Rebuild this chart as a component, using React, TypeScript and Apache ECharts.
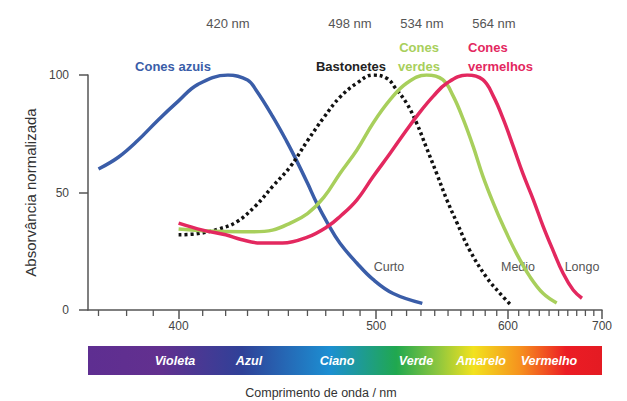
import React, { useEffect, useRef } from "react";
import * as echarts from "echarts";

// Wavelengths (nm) and normalised absorbance for each curve
const blueNm = [370, 377, 384, 392, 400, 408, 421, 430, 434, 442, 449, 454, 460, 465, 471, 478, 488, 498, 511, 531];
const blueVal = [60, 65, 72, 81, 89, 96, 100, 97.9, 93.6, 82.5, 72, 64, 54, 45.5, 37, 28.5, 20, 13, 7, 2.8];

const rodNm = [400, 408, 417, 425, 434, 442, 451, 460, 469, 478, 488, 498, 507, 513, 520, 527, 534, 541.5, 549, 557, 567, 581, 593, 603];
const rodVal = [32, 32.5, 34.5, 37.5, 44.5, 52.5, 61, 72, 82, 90.5, 96.5, 100, 98.5, 94, 88, 79.5, 69, 58, 47, 37, 25.5, 14, 7, 2];

const greenNm = [400, 415, 433, 442, 451, 460, 469, 478, 488, 498, 509, 520, 534, 546, 554, 562, 570, 578, 587, 596, 608, 621, 634, 648];
const greenVal = [34.5, 33.5, 33.3, 34, 37, 41, 48, 58, 68, 79.5, 89.5, 96.5, 100, 98, 91, 81, 69.5, 57, 45.5, 35.5, 24, 14, 7, 3];

const redNm = [400, 410, 420, 427, 436, 447, 460, 471, 478, 488, 498, 509, 520, 529, 539, 549, 565, 578, 587, 596, 605, 614, 624, 634, 644, 655, 666, 676];
const redVal = [37, 34, 32, 30, 28.5, 28.5, 31, 35.5, 39.7, 46.8, 56.7, 66.7, 76.6, 84, 91, 96.5, 100, 98, 91, 81, 69.5, 58, 47, 35.5, 25.5, 15.5, 8.5, 5];

const majorTicksNm = [400, 500, 600, 700];
const minorTicksNm = [370, 380, 390, 410, 420, 430, 440, 450, 460, 470, 480, 490, 510, 520, 530, 540, 550, 560, 570, 580, 590, 610, 620, 630, 640, 650, 660, 670, 680, 690];
const yTicks = [0, 50, 100];

const peakLabels = ["420 nm", "498 nm", "534 nm", "564 nm"];
const bandNames = ["Violeta", "Azul", "Ciano", "Verde", "Amarelo", "Vermelho"];

// axis variable: 1e6/λ (the wavelength axis is linear in 1/λ)
const toU = (nm: number) => 1e6 / nm;
const NM_MIN = 366.4;
const NM_MAX = 700;

const pairs = (nm: number[], v: number[]) => nm.map((n, i) => [toU(n), v[i]]);

const FONT = "'Liberation Sans', Arial, Helvetica, sans-serif";

export default function App() {
  const ref = useRef<HTMLDivElement>(null);
  useEffect(() => {
    if (!ref.current) return;
    const chart = echarts.init(ref.current, null, { renderer: "svg" });
    const lineCol = "#555";
    const text = (x: number, y: number, t: string, style: any) => ({
      type: "text",
      x,
      y,
      style: { text: t, align: "center", verticalAlign: "middle", font: `13px ${FONT}`, ...style },
    });
    chart.setOption({
      animation: false,
      backgroundColor: "#fff",
      grid: { left: 88, right: 25, top: 75, bottom: 91 },
      xAxis: {
        type: "value",
        inverse: true,
        min: toU(NM_MAX),
        max: toU(NM_MIN),
        position: "bottom",
        splitLine: { show: false },
        axisLine: { show: true, lineStyle: { color: lineCol, width: 1.5 } },
        axisTick: { show: true, interval: 0, customValues: majorTicksNm.map(toU), length: 9, lineStyle: { color: lineCol, width: 1.5 } },
        axisLabel: {
          show: true,
          interval: 0,
          customValues: majorTicksNm.map(toU),
          formatter: (v: number) => String(Math.round(1e6 / v)),
          margin: 10,
          fontSize: 12,
          color: "#444",
          fontFamily: FONT,
        },
      },
      yAxis: {
        type: "value",
        min: 0,
        max: 100,
        interval: 50,
        name: "Absorvância normalizada",
        nameLocation: "middle",
        nameGap: 48,
        nameTextStyle: { fontSize: 15, color: "#333", fontFamily: FONT },
        axisLine: { show: true, lineStyle: { color: lineCol, width: 1.5 } },
        axisTick: { show: true, length: 9, lineStyle: { color: lineCol, width: 1.5 } },
        axisLabel: { margin: 19, fontSize: 12, color: "#444", fontFamily: FONT, customValues: yTicks },
        splitLine: { show: false },
      },
      series: [
        { type: "line", name: "Cones azuis", data: pairs(blueNm, blueVal), smooth: 0.4, showSymbol: false, lineStyle: { color: "#3a5da8", width: 3.5 } },
        { type: "line", name: "Bastonetes", data: pairs(rodNm, rodVal), smooth: 0.4, showSymbol: false, lineStyle: { color: "#111", width: 3.5, type: [3, 3] } },
        { type: "line", name: "Cones verdes", data: pairs(greenNm, greenVal), smooth: 0.4, showSymbol: false, lineStyle: { color: "#a8cf5c", width: 3.5 } },
        { type: "line", name: "Cones vermelhos", data: pairs(redNm, redVal), smooth: 0.4, showSymbol: false, lineStyle: { color: "#e3285f", width: 3.5 } },
        {
          type: "custom",
          name: "minor ticks",
          data: minorTicksNm.map((n) => [toU(n), 0]),
          clip: false,
          silent: true,
          z: 5,
          renderItem: (_params: any, api: any) => {
            const p = api.coord([api.value(0), 0]);
            return {
              type: "line",
              shape: { x1: p[0], y1: p[1], x2: p[0], y2: p[1] + 6 },
              style: { stroke: "#555", lineWidth: 1.3 },
            };
          },
        },
      ],
      graphic: [
        text(228, 23, peakLabels[0], { fill: "#555" }),
        text(350, 23, peakLabels[1], { fill: "#555" }),
        text(422, 23, peakLabels[2], { fill: "#555" }),
        text(494, 23, peakLabels[3], { fill: "#555" }),
        text(173, 66, "Cones azuis", { fill: "#3a5da8", font: `bold 13px ${FONT}` }),
        text(351, 66, "Bastonetes", { fill: "#222", font: `bold 13px ${FONT}` }),
        text(419, 47, "Cones", { fill: "#a8cf5c", font: `bold 13px ${FONT}` }),
        text(419, 66, "verdes", { fill: "#a8cf5c", font: `bold 13px ${FONT}` }),
        { type: "text", x: 468, y: 47, style: { text: "Cones", align: "left", verticalAlign: "middle", fill: "#e3285f", font: `bold 13px ${FONT}` } },
        { type: "text", x: 468, y: 66, style: { text: "vermelhos", align: "left", verticalAlign: "middle", fill: "#e3285f", font: `bold 13px ${FONT}` } },
        text(389, 267, "Curto", { fill: "#555", font: `12.5px ${FONT}` }),
        text(518, 267, "Medio", { fill: "#555", font: `12.5px ${FONT}` }),
        text(582, 267, "Longo", { fill: "#555", font: `12.5px ${FONT}` }),
        {
          type: "rect",
          shape: { x: 88, y: 346, width: 514, height: 29 },
          style: {
            fill: new echarts.graphic.LinearGradient(0, 0, 1, 0, [
              { offset: 0, color: "#5e2e91" },
              { offset: 0.14, color: "#62308f" },
              { offset: 0.3, color: "#2f4198" },
              { offset: 0.47, color: "#1c8fd2" },
              { offset: 0.6, color: "#20a84f" },
              { offset: 0.68, color: "#8cc63f" },
              { offset: 0.75, color: "#f2e21e" },
              { offset: 0.84, color: "#f6921e" },
              { offset: 0.93, color: "#ec1c24" },
              { offset: 1, color: "#e41b23" },
            ]),
          },
        },
        text(175, 361, bandNames[0], { fill: "#fff", font: `italic bold 12.5px ${FONT}` }),
        text(249, 361, bandNames[1], { fill: "#fff", font: `italic bold 12.5px ${FONT}` }),
        text(337, 361, bandNames[2], { fill: "#fff", font: `italic bold 12.5px ${FONT}` }),
        text(416, 361, bandNames[3], { fill: "#fff", font: `italic bold 12.5px ${FONT}` }),
        text(481, 361, bandNames[4], { fill: "#fff", font: `italic bold 12.5px ${FONT}` }),
        text(549, 361, bandNames[5], { fill: "#fff", font: `italic bold 12.5px ${FONT}` }),
        text(321, 393, "Comprimento de onda / nm", { fill: "#333", font: `12.5px ${FONT}` }),
      ],
    });
    return () => chart.dispose();
  }, []);
  return <div ref={ref} style={{ position: "fixed", left: 0, top: 0, width: 627, height: 401 }} />;
}
